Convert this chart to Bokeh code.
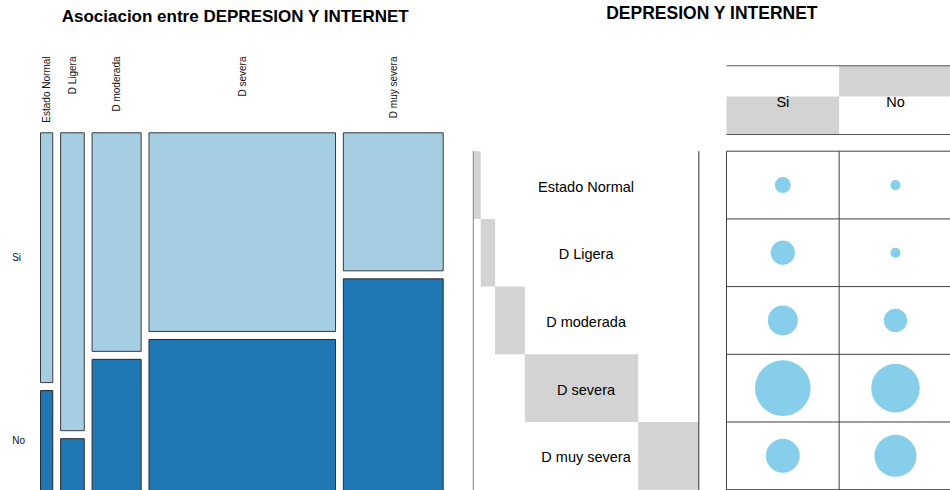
import numpy as np
from bokeh.plotting import figure
from bokeh.layouts import row
from bokeh.models import Range1d, Label
from bokeh.core.properties import value
from bokeh.embed import file_html
from bokeh.resources import INLINE

# ---------------- data ----------------
categories = ["Estado Normal", "D Ligera", "D moderada", "D severa", "D muy severa"]
internet = ["Si", "No"]
si_counts = [10, 23, 35, 121, 45]
no_counts = [4, 4, 21, 92, 69]
title_left = "Asociacion entre DEPRESION Y INTERNET"
title_right = "DEPRESION Y INTERNET"

FONT = "Liberation Sans"
H = 490
W_L, W_R = 470, 480

si = np.array(si_counts, float)
no = np.array(no_counts, float)
tot = si + no
N = tot.sum()
n = len(categories)

# ---------------- left: mosaic ----------------
gx = 0.0195
gy = 0.0224
widths = tot / N * (1 - gx * (n - 1))
x0 = np.concatenate([[0.0], np.cumsum(widths[:-1])]) + np.arange(n) * gx
x1 = x0 + widths
pno = no / tot
no_top = pno * (1 - gy)
si_bot = no_top + gy

p1 = figure(width=W_L, height=H, x_range=Range1d(-0.09933, 1.06779),
            y_range=Range1d(0.0, 1.36986), output_backend="svg",
            toolbar_location=None, min_border=0)
p1.axis.visible = False
p1.grid.visible = False
p1.outline_line_color = None

p1.quad(left=x0, right=x1, bottom=si_bot, top=np.ones(n),
        fill_color="#A6CEE3", line_color="#3a3a3a", line_width=1)
p1.quad(left=x0, right=x1, bottom=np.zeros(n) - 0.05, top=no_top,
        fill_color="#1F78B4", line_color="#2a2a2a", line_width=1)

p1.text(x=(x0 + x1) / 2, y=[1.2133] * n, text=categories, angle=np.pi / 2,
        text_align="right", text_baseline="middle", text_font_size="10px",
        text_font=value(FONT), text_color="#111111")
p1.text(x=[-0.0703, -0.0703], y=[(si_bot[0] + 1) / 2, no_top[0] / 2], text=internet,
        text_align="left", text_baseline="middle", text_font_size="10px",
        text_font=value(FONT), text_color="#111111")
p1.add_layout(Label(x=235, y=473.7, x_units="screen", y_units="screen", text=title_left,
                    text_align="center", text_baseline="middle", text_font_size="17px",
                    text_font_style="bold", text_font=FONT, text_color="#000000"))

# ---------------- right: balloon plot ----------------
p2 = figure(width=W_R, height=H, x_range=Range1d(-2.2725, 1.98846),
            y_range=Range1d(5.0118, -2.226), output_backend="svg",
            toolbar_location=None, min_border=0)
p2.axis.visible = False
p2.grid.visible = False
p2.outline_line_color = None

nc = len(internet)
col_tot = np.array([si.sum(), no.sum()])

# header
h_top, h_bot = -1.2615, -0.2467
hh = h_bot - h_top
cum = np.concatenate([[0.0], np.cumsum(col_tot)]) / N
p2.quad(left=np.arange(nc), right=np.arange(nc) + 1,
        bottom=h_bot - cum[:-1] * hh, top=h_bot - cum[1:] * hh,
        fill_color="#D3D3D3", line_color=None)
p2.segment(x0=[0, 0], x1=[2.5, 2.5], y0=[h_top, h_bot], y1=[h_top, h_bot],
           line_color="#555555", line_width=1)
p2.text(x=np.arange(nc) + 0.5, y=[(h_top + h_bot) / 2 + 0.03] * nc, text=internet,
        text_align="center", text_baseline="middle", text_font_size="14.5px",
        text_font=value(FONT), text_color="#000000")

# staircase of row margins
s_left, s_right = -2.2477, -0.2459
sw = s_right - s_left
rcum = np.concatenate([[0.0], np.cumsum(tot)]) / N
rows = np.arange(n)
p2.quad(left=s_left + rcum[:-1] * sw, right=s_left + rcum[1:] * sw,
        bottom=rows + 1, top=rows, fill_color="#D3D3D3", line_color=None)
p2.segment(x0=[s_left], x1=[s_left], y0=[0], y1=[n + 1], line_color="#808080", line_width=1)
p2.segment(x0=[s_right], x1=[s_right], y0=[0], y1=[n + 1], line_color="#333333", line_width=1)
p2.text(x=[(s_left + s_right) / 2] * n, y=rows + 0.5 + 0.022, text=categories,
        text_align="center", text_baseline="middle", text_font_size="14.5px",
        text_font=value(FONT), text_color="#000000")

# grid
p2.segment(x0=[0] * (n + 2), x1=[2.5] * (n + 2), y0=list(range(n + 2)), y1=list(range(n + 2)),
           line_color="#404040", line_width=1)
p2.segment(x0=[0, 1, 2], x1=[0, 1, 2], y0=[0, 0, 0], y1=[n + 1] * 3,
           line_color="#404040", line_width=1)

# balloons
vals = np.concatenate([si, no])
bx = np.concatenate([np.full(n, 0.5), np.full(n, 1.5)])
by = np.concatenate([rows + 0.5, rows + 0.5])
vmax = vals.max()
p2.scatter(x=bx, y=by, size=55.7 * np.sqrt(vals / vmax), marker="circle",
           fill_color="#87CEEB", line_color=None)

p2.add_layout(Label(x=241.7, y=477.5, x_units="screen", y_units="screen", text=title_right,
                    text_align="center", text_baseline="middle", text_font_size="17.5px",
                    text_font_style="bold", text_font=FONT, text_color="#000000"))

layout = row(p1, p2)
open("out.html", "w").write(file_html(layout, INLINE))
